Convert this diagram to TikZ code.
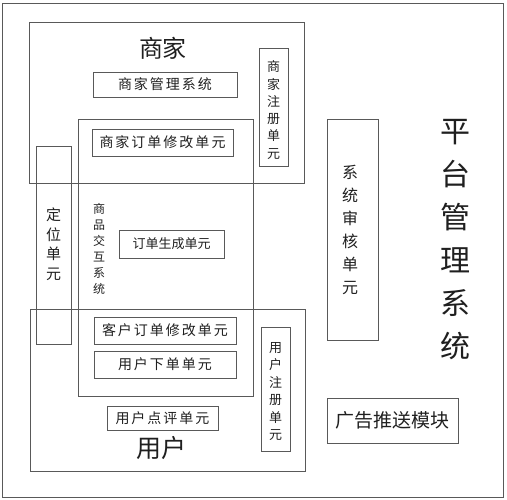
\documentclass[tikz,border=0pt]{standalone}
\usepackage{fontspec}
\newfontfamily\cjk{Noto Sans CJK SC}
\makeatletter
\newcommand\spc[2]{\@tfor\spcchar:=#2\do{\spcchar\hspace{#1}}\unskip}
\makeatother
\definecolor{linec}{gray}{0.35}
\definecolor{textc}{gray}{0.12}
\tikzset{
  box/.style={draw=linec, line width=0.8pt, inner sep=0pt, rectangle},
  txt/.style={text=textc, inner sep=0pt, font=\cjk\fontsize{14}{16}\selectfont},
  vtxt/.style={text=textc, inner sep=0pt, align=center},
}
\begin{document}
\begin{tikzpicture}[x=1pt,y=-1pt]
\useasboundingbox (0,0) rectangle (507,500);
% outer frame
\node[box, minimum width=501pt, minimum height=494pt] (outer) at (252.5,250) {};
% merchant
\node[box, minimum width=275pt, minimum height=161pt] (merchant) at (166.5,102.5) {};
\node[txt, font=\cjk\fontsize{24}{26}\selectfont] (mtitle) at (163,48) {商家};
\node[box, txt, minimum width=144pt, minimum height=25pt] (mgmt) at (165,84.5) {\spc{2pt}{商家管理系统}};
% goods interaction
\node[box, minimum width=175pt, minimum height=277pt] (goods) at (165.5,257.5) {};
\node[box, txt, minimum width=141pt, minimum height=27pt] (morder) at (162.5,142.5) {\spc{2pt}{商家订单修改单元}};
\node[vtxt, font=\cjk\fontsize{12}{16}\selectfont] (goodst) at (99,249) {商\\品\\交\\互\\系\\统};
\node[box, txt, font=\cjk\fontsize{13}{15}\selectfont, minimum width=105pt, minimum height=28pt] (gen) at (171.5,244) {订单生成单元};
% locate
\node[box, minimum width=35pt, minimum height=198pt] (locate) at (53.5,245) {};
\node[vtxt, font=\cjk\fontsize{15}{19.5}\selectfont] (locatet) at (53.5,244) {定\\位\\单\\元};
% user
\node[box, minimum width=275pt, minimum height=162pt] (user) at (167.5,390) {};
\node[box, txt, minimum width=142pt, minimum height=27pt] (corder) at (165,330.5) {\spc{2pt}{客户订单修改单元}};
\node[box, txt, minimum width=142pt, minimum height=27pt] (place) at (165,364.5) {\spc{2pt}{用户下单单元}};
\node[box, txt, minimum width=111pt, minimum height=24pt] (review) at (162.5,418) {\spc{2pt}{用户点评单元}};
\node[txt, font=\cjk\fontsize{25}{27}\selectfont] (utitle) at (161,448) {用户};
% merchant registration
\node[box, minimum width=29pt, minimum height=118pt] (mreg) at (273.5,107) {};
\node[vtxt, font=\cjk\fontsize{13}{17.3}\selectfont] (mregt) at (273.5,110) {商\\家\\注\\册\\单\\元};
% audit
\node[box, minimum width=51pt, minimum height=221pt] (audit) at (352.5,229.5) {};
\node[vtxt, font=\cjk\fontsize{16}{23}\selectfont] (auditt) at (350,229.5) {系\\统\\审\\核\\单\\元};
% user registration
\node[box, minimum width=29pt, minimum height=124pt] (ureg) at (275.5,389) {};
\node[vtxt, font=\cjk\fontsize{13}{17.5}\selectfont] (uregt) at (275.5,391.5) {用\\户\\注\\册\\单\\元};
% platform
\node[vtxt, font=\cjk\fontsize{30}{43}\selectfont] (platform) at (455,239.5) {平\\台\\管\\理\\系\\统};
% ad
\node[box, txt, font=\cjk\fontsize{19}{21}\selectfont, minimum width=131pt, minimum height=45pt] (ad) at (392.5,420.5) {广告推送模块};
\end{tikzpicture}
\end{document}
